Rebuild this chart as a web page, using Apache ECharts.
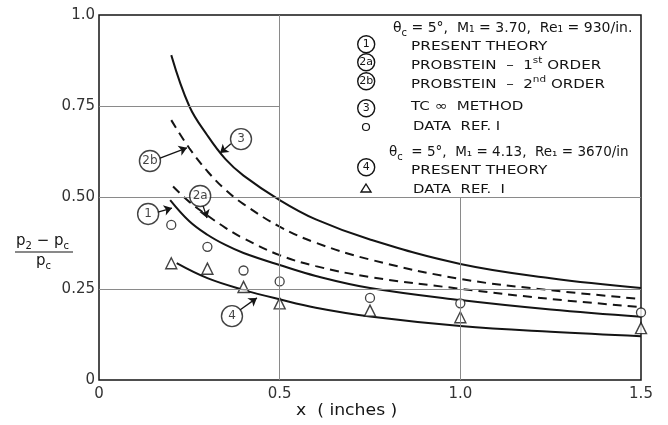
<!DOCTYPE html>
<html>
<head>
<meta charset="utf-8">
<script src="https://cdn.jsdelivr.net/npm/echarts@6/dist/echarts.min.js"></script>
<style>
html, body { margin: 0; padding: 0; background: #fff; }
#chart { width: 668px; height: 425px; }
</style>
</head>
<body>
<div id="chart"></div>
<script>
// x positions of the theory curves
var curveX = [0.2, 0.25, 0.3, 0.35, 0.4, 0.5, 0.6, 0.75, 1.0, 1.25, 1.5];
var curve3 = [0.89, 0.75, 0.67, 0.605, 0.56, 0.493, 0.44, 0.385, 0.318, 0.279, 0.252];
var curve2b = [0.712, 0.635, 0.572, 0.521, 0.482, 0.42, 0.376, 0.33, 0.277, 0.246, 0.222];
var curve2aX = [0.205, 0.25, 0.3, 0.35, 0.4, 0.5, 0.6, 0.75, 1.0, 1.25, 1.5];
var curve2a = [0.53, 0.488, 0.451, 0.417, 0.388, 0.342, 0.312, 0.282, 0.25, 0.222, 0.2];
var curve1X = [0.197, 0.25, 0.3, 0.35, 0.4, 0.5, 0.6, 0.75, 1.0, 1.25, 1.5];
var curve1 = [0.493, 0.435, 0.398, 0.37, 0.348, 0.315, 0.285, 0.252, 0.219, 0.193, 0.173];
var curve4X = [0.215, 0.3, 0.4, 0.5, 0.6, 0.75, 1.0, 1.25, 1.5];
var curve4 = [0.32, 0.279, 0.247, 0.221, 0.198, 0.174, 0.148, 0.132, 0.12];

// data ref. 1
var dataX = [0.2, 0.3, 0.4, 0.5, 0.75, 1.0, 1.5];
var dataCircle = [0.425, 0.365, 0.30, 0.27, 0.225, 0.21, 0.185];
var dataTriangle = [0.32, 0.305, 0.255, 0.21, 0.19, 0.172, 0.142];

// tick labels
var xTicks = ['0', '0.5', '1.0', '1.5'];
var yTicks = ['0', '0.25', '0.50', '0.75', '1.0'];

// circled curve tags: [x, y, text] and their arrows [from, to]
var tags = [[0.393, 0.66, '3'], [0.141, 0.60, '2b'], [0.28, 0.504, '2a'], [0.136, 0.455, '1'], [0.368, 0.175, '4']];
var arrows = [
	[[0.365, 0.647], [0.335, 0.622]],
	[[0.169, 0.608], [0.2435, 0.636]],
	[[0.288, 0.477], [0.299, 0.444]],
	[[0.163, 0.46], [0.202, 0.471]],
	[[0.39, 0.192], [0.437, 0.225]]
];
// partial grid lines
var gridLines = [
	[[0.5, 0], [0.5, 1]],
	[[1.0, 0], [1.0, 0.5]],
	[[0, 0.25], [1.5, 0.25]],
	[[0, 0.5], [1.5, 0.5]],
	[[0, 0.75], [0.5, 0.75]]
];

var FONT = '"DejaVu Sans", sans-serif';
var INK = '#141414';

function zip(xs, ys) {
	var out = [];
	for (var i = 0; i < xs.length; i++) {
		out.push([xs[i], ys[i]]);
	}
	return out;
}

function curve(name, xs, ys, dashed) {
	return {
		name: name,
		type: 'line',
		data: zip(xs, ys),
		smooth: 0.4,
		symbol: 'none',
		silent: true,
		lineStyle: { color: INK, width: 2, type: dashed ? [9, 6] : 'solid' },
		z: 3
	};
}

function segs(list) {
	return list.map(function(s) {
		return [{ coord: s[0] }, { coord: s[1] }];
	});
}

var myChart = echarts.init(document.getElementById('chart'));

var rich = {
	s: { fontSize: 10, lineHeight: 10, verticalAlign: 'bottom', fontFamily: FONT, fill: INK },
	u: { fontSize: 9, lineHeight: 9, verticalAlign: 'top', fontFamily: FONT, fill: INK }
};

// legend row text; caps rows are stretched a little like the stencil lettering
function legendText(x, y, text, size, sx) {
	return {
		type: 'text', left: x, top: y - 10, scaleX: sx || 1,
		style: { text: text, rich: rich, fontFamily: FONT, fontSize: size || 13, fill: INK, lineHeight: 20 }
	};
}

function legendTag(x, y, text) {
	return {
		type: 'group', left: x - 9, top: y - 9,
		children: [
			{ type: 'circle', shape: { cx: 9, cy: 9, r: 8.5 }, style: { fill: '#fff', stroke: INK, lineWidth: 1.4 } },
			{ type: 'text', x: 9, y: 9, style: { text: text, fontFamily: FONT, fontSize: 11, fill: INK, align: 'center', verticalAlign: 'middle' } }
		]
	};
}

var option = {
	animation: false,
	backgroundColor: '#fff',
	grid: { left: 99, right: 27, top: 15, bottom: 45, show: true, borderColor: INK, borderWidth: 1.5, backgroundColor: 'transparent' },
	xAxis: {
		type: 'value', min: 0, max: 1.5, interval: 0.5,
		axisLine: { show: false }, axisTick: { show: false }, splitLine: { show: false },
		axisLabel: {
			margin: 7, fontFamily: FONT, fontSize: 15, color: '#333',
			formatter: function(v) { return xTicks[Math.round(v / 0.5)]; }
		}
	},
	yAxis: {
		type: 'value', min: 0, max: 1, interval: 0.25,
		axisLine: { show: false }, axisTick: { show: false }, splitLine: { show: false },
		axisLabel: {
			margin: 4, fontFamily: FONT, fontSize: 15, color: '#333',
			formatter: function(v) { return yTicks[Math.round(v / 0.25)]; }
		}
	},
	series: [
		{
			type: 'line', data: [], silent: true,
			markLine: {
				silent: true, symbol: ['none', 'none'], label: { show: false },
				lineStyle: { color: '#8a8a8a', width: 1, type: 'solid' },
				data: segs(gridLines)
			}
		},
		curve('3', curveX, curve3, false),
		curve('2b', curveX, curve2b, true),
		curve('2a', curve2aX, curve2a, true),
		curve('1', curve1X, curve1, false),
		curve('4', curve4X, curve4, false),
		{
			type: 'scatter', data: zip(dataX, dataCircle), symbol: 'circle', symbolSize: 9, clip: false, silent: true,
			itemStyle: { color: '#fff', borderColor: INK, borderWidth: 1.3 }, z: 4
		},
		{
			type: 'scatter', data: zip(dataX, dataTriangle), symbol: 'triangle', symbolSize: 11, clip: false, silent: true,
			itemStyle: { color: '#fff', borderColor: INK, borderWidth: 1.4 }, z: 4
		},
		{
			type: 'line', data: [], silent: true,
			markLine: {
				silent: true, symbol: ['none', 'arrow'], symbolSize: 8, label: { show: false },
				lineStyle: { color: INK, width: 1.3, type: 'solid' },
				data: segs(arrows)
			}
		},
		{
			type: 'scatter', silent: true, symbol: 'circle', symbolSize: 21, clip: false,
			data: tags.map(function(t) { return { value: [t[0], t[1]], name: t[2] }; }),
			itemStyle: { color: '#fff', borderColor: INK, borderWidth: 1.4 },
			label: { show: true, position: 'inside', formatter: '{b}', fontFamily: FONT, fontSize: 12, color: INK },
			z: 5
		}
	],
	graphic: [
		// y axis title as a fraction
		{ type: 'text', left: 16, top: 231, style: { text: 'p{s|2} − p{s|c}', rich: rich, fontFamily: FONT, fontSize: 15, fill: INK, lineHeight: 20 } },
		{ type: 'line', shape: { x1: 15, y1: 252, x2: 73, y2: 252 }, style: { stroke: INK, lineWidth: 1.2 } },
		{ type: 'text', left: 36, top: 251, style: { text: 'p{s|c}', rich: rich, fontFamily: FONT, fontSize: 15, fill: INK, lineHeight: 20 } },
		// x axis title
		{ type: 'text', left: 296, top: 404, scaleX: 1.15, style: { text: 'x  ( inches )', fontFamily: FONT, fontSize: 15, fill: INK } },
		// legend block
		legendText(393, 28, 'θ{s|c} = 5°,  M₁ = 3.70,  Re₁ = 930/in.', 14),
		legendTag(366, 44, '1'),
		legendText(411, 47, 'PRESENT THEORY', 13, 1.18),
		legendTag(366, 62, '2a'),
		legendText(411, 66, 'PROBSTEIN  –  1{u|st} ORDER', 13, 1.16),
		legendTag(366, 81, '2b'),
		legendText(411, 85, 'PROBSTEIN  –  2{u|nd} ORDER', 13, 1.16),
		legendTag(366, 108, '3'),
		legendText(411, 107, 'TC ∞  METHOD', 13, 1.16),
		{ type: 'circle', shape: { cx: 366, cy: 127, r: 3.5 }, style: { fill: '#fff', stroke: INK, lineWidth: 1.2 } },
		legendText(413, 127, 'DATA  REF. I', 13, 1.14),
		legendText(389, 152, 'θ{s|c}  = 5°,  M₁ = 4.13,  Re₁ = 3670/in', 13.5),
		legendTag(366, 167, '4'),
		legendText(411, 171, 'PRESENT THEORY', 13, 1.18),
		{ type: 'polygon', shape: { points: [[366, 184], [371, 192], [361, 192]] }, style: { fill: '#fff', stroke: INK, lineWidth: 1.4 } },
		legendText(413, 190, 'DATA  REF.  I', 13, 1.14)
	]
};
myChart.setOption(option);
window.onresize = myChart.resize;
</script>
</body>
</html>
